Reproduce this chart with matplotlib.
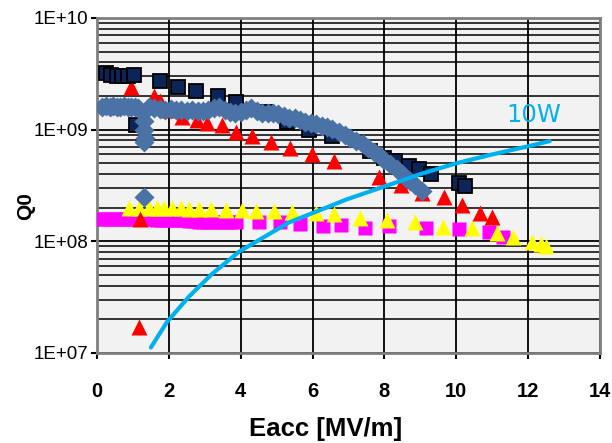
import numpy as np
import matplotlib
matplotlib.use('Agg')
from matplotlib import pyplot as plt
from matplotlib.ticker import LogLocator, FixedLocator, NullFormatter

plt.rcParams['font.family'] = ['Liberation Sans', 'DejaVu Sans']

# navy squares
sq_e = [0.25, 0.4, 0.55, 0.7, 0.85, 1.03, 1.08, 1.75, 2.26, 2.76, 3.37, 3.87, 4.7, 5.3,
        5.9, 6.55, 7.6, 7.99, 8.3, 8.69, 8.97, 9.3, 10.08, 10.25]
sq_q = [3.2e9, 3.1e9, 3.05e9, 3.0e9, 3.0e9, 3.1e9, 1.1e9, 2.75e9, 2.4e9, 2.2e9, 2.0e9, 1.78e9,
        1.45e9, 1.18e9, 1.0e9, 8.7e8, 6.5e8, 5.6e8, 5.2e8, 4.7e8, 4.4e8, 4.0e8, 3.3e8, 3.1e8]

# steel blue diamonds
dm_e = [0.15, 0.25, 0.35, 0.45, 0.55, 0.65, 0.75, 0.85, 0.95, 1.05, 1.15, 1.3, 1.3, 1.33, 1.3,
        1.3, 1.45, 1.6, 1.75, 1.9, 2.05, 2.2, 2.35, 2.5, 2.65, 2.8, 2.95, 3.1, 3.25, 3.4,
        3.55, 3.7, 3.85, 4.0, 4.15, 4.3, 4.45, 4.6, 4.75, 4.9, 5.05, 5.2, 5.35, 5.5, 5.65,
        5.8, 5.95, 6.1, 6.25, 6.4, 6.55, 6.74, 6.9, 7.05, 7.2, 7.4, 7.55, 7.7, 7.88, 8.0,
        8.15, 8.36, 8.5, 8.6, 8.72, 8.85, 9.05]
dm_q = [1.6e9, 1.62e9, 1.6e9, 1.62e9, 1.6e9, 1.6e9, 1.62e9, 1.6e9, 1.58e9, 1.6e9, 1.57e9, 1.2e9,
        1.0e9, 8.4e8, 7.8e8, 2.5e8, 1.58e9, 1.55e9, 1.52e9, 1.5e9, 1.52e9, 1.5e9, 1.5e9,
        1.48e9, 1.5e9, 1.48e9, 1.46e9, 1.5e9, 1.55e9, 1.58e9, 1.5e9, 1.45e9, 1.42e9, 1.45e9,
        1.5e9, 1.55e9, 1.48e9, 1.42e9, 1.42e9, 1.4e9, 1.38e9, 1.33e9, 1.28e9, 1.27e9, 1.22e9,
        1.17e9, 1.15e9, 1.12e9, 1.08e9, 1.05e9, 1.02e9, 9.6e8, 9.0e8, 8.4e8, 7.9e8, 7.4e8,
        6.9e8, 6.3e8, 5.8e8, 5.4e8, 4.9e8, 4.4e8, 4.0e8, 3.7e8, 3.45e8, 3.2e8, 2.8e8]

# red triangles
rt_e = [0.95, 1.17, 1.2, 1.59, 1.75, 2.0, 2.37, 2.79, 3.07, 3.48, 3.87, 4.32, 4.85, 5.38,
        5.99, 6.6, 7.86, 8.47, 9.05, 9.67, 10.17, 10.67, 11.0]
rt_q = [2.4e9, 1.7e7, 1.6e8, 2.0e9, 1.8e9, 1.5e9, 1.3e9, 1.23e9, 1.15e9, 1.09e9, 9.5e8, 8.7e8,
        7.8e8, 6.9e8, 6.0e8, 5.2e8, 3.8e8, 3.2e8, 2.7e8, 2.5e8, 2.1e8, 1.8e8, 1.66e8]

# yellow triangles
yt_e = [0.89, 1.17, 1.45, 1.67, 1.87, 2.09, 2.34, 2.56, 2.84, 3.18, 3.59, 4.04, 4.43, 4.93,
        5.43, 6.1, 6.6, 7.33, 8.08, 8.86, 9.64, 10.45, 11.14, 11.59, 12.1, 12.37, 12.5]
yt_q = [2.0e8, 2.0e8, 2.0e8, 2.0e8, 1.98e8, 1.98e8, 1.97e8, 1.96e8, 1.95e8, 1.93e8, 1.92e8,
        1.9e8, 1.88e8, 1.87e8, 1.84e8, 1.8e8, 1.75e8, 1.63e8, 1.55e8, 1.49e8, 1.35e8, 1.31e8,
        1.18e8, 1.1e8, 9.8e7, 9.4e7, 9.1e7]

# magenta squares
mg_e = [0.1, 0.23, 0.36, 0.49, 0.62, 0.75, 0.88, 1.01, 1.14, 1.27, 1.4, 1.53, 1.66, 1.79,
        1.92, 2.05, 2.18, 2.31, 2.44, 2.57, 2.7, 2.83, 2.96, 3.09, 3.22, 3.35, 3.48, 3.61,
        3.74, 3.87, 4.5, 5.1, 5.65, 6.3, 6.8, 7.46, 8.13, 9.16, 10.08, 10.9, 11.3]
mg_q = [1.6e8, 1.6e8, 1.6e8, 1.59e8, 1.6e8, 1.59e8, 1.58e8, 1.58e8, 1.58e8, 1.57e8, 1.57e8,
        1.57e8, 1.56e8, 1.56e8, 1.55e8, 1.55e8, 1.55e8, 1.54e8, 1.54e8, 1.53e8, 1.52e8,
        1.5e8, 1.5e8, 1.5e8, 1.5e8, 1.5e8, 1.5e8, 1.5e8, 1.5e8, 1.5e8, 1.5e8, 1.5e8, 1.42e8,
        1.38e8, 1.4e8, 1.33e8, 1.36e8, 1.31e8, 1.29e8, 1.22e8, 1.1e8]

# 10W line
w_e = [1.5, 1.95, 2.56, 3.2, 3.96, 5.35, 6.46, 6.94, 8.0, 9.0, 10.0, 11.0, 12.0, 12.6]
w_q = [1.12e7, 1.9e7, 3.2e7, 5.1e7, 8.1e7, 1.48e8, 2.05e8, 2.37e8, 3.1e8, 4.0e8, 5.0e8,
       6.0e8, 7.1e8, 7.9e8]

fig = plt.figure(figsize=(6.12, 4.43), dpi=100)
ax = fig.add_axes([97/612, 90/443, 503/612, 335/443])
ax.set_facecolor('#f2f2f2')

ax.plot(mg_e, mg_q, 's', color='#ff00ff', ms=10, mec='none', zorder=3)
ax.plot(yt_e, yt_q, '^', color='#ffff00', ms=11, mec='none', zorder=4)
ax.plot(rt_e, rt_q, '^', color='#ff0000', ms=11, mec='none', zorder=5)
ax.plot(sq_e, sq_q, 's', color='#0c2458', ms=10.5, mec='black', mew=1.3, zorder=6)
ax.plot(dm_e, dm_q, 'D', color='#4a72a6', ms=10.5, mec='none', zorder=7)
ax.plot(w_e, w_q, '-', color='#00b0f0', lw=3, zorder=8, solid_capstyle='round')
ax.text(11.4, 1.17e9, '10W', color='#00b0f0', fontsize=17.5, family='DejaVu Sans', zorder=9)

ax.set_yscale('log')
ax.set_xlim(0, 14)
ax.set_ylim(1e7, 1e10)
ax.xaxis.set_major_locator(FixedLocator(np.arange(0, 15, 2)))
ax.yaxis.set_major_locator(FixedLocator([1e7, 1e8, 1e9, 1e10]))
ax.yaxis.set_minor_locator(LogLocator(base=10, subs=np.arange(2, 10)))
ax.yaxis.set_minor_formatter(NullFormatter())
ax.set_yticklabels(['1E+07', '1E+08', '1E+09', '1E+10'], fontsize=13.5)
ax.set_xticklabels([str(v) for v in range(0, 15, 2)], fontsize=14.5, fontweight='bold')

ax.grid(True, which='major', color='black', lw=1.3, zorder=1)
ax.grid(True, which='minor', axis='y', color='black', lw=1.1, zorder=1)
ax.set_axisbelow(True)
ax.tick_params(axis='both', which='major', direction='out', length=4, width=1.5,
               color='black')
ax.tick_params(axis='x', which='major', pad=17)
ax.tick_params(axis='y', which='major', pad=2)
ax.tick_params(axis='y', which='minor', length=0)
for s in ax.spines.values():
    s.set_color('#808080')
    s.set_linewidth(2)

ax.set_xlabel('Eacc [MV/m]', fontsize=18.5, fontweight='bold')
ax.xaxis.set_label_coords(0.455, -0.19)
ax.set_ylabel('Q0', fontsize=15, fontweight='bold')
ax.yaxis.set_label_coords(-0.123, 0.44)

fig.savefig('out.png', dpi=100)
